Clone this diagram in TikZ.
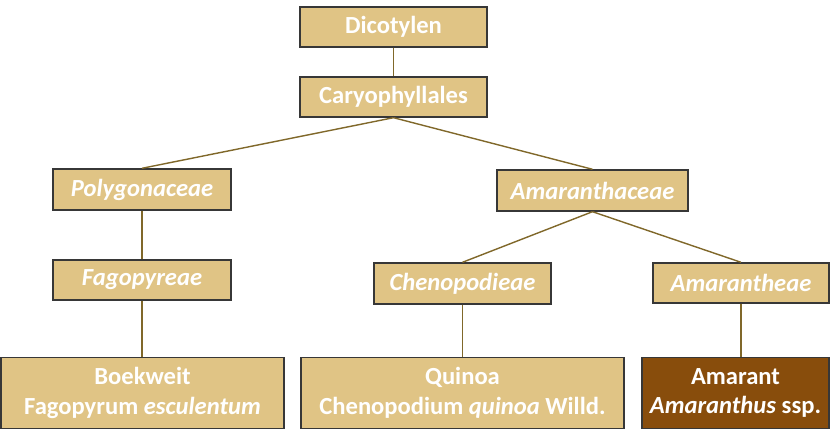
\documentclass[tikz,border=0pt]{standalone}
\usepackage{fontspec}
\setmainfont{Carlito}
\usepackage{tikz}
\usetikzlibrary{positioning, calc}
\definecolor{tan}{RGB}{224,196,133}
\definecolor{brownbox}{RGB}{136,77,12}
\definecolor{linkcol}{RGB}{128,104,42}
\definecolor{edgecol}{RGB}{55,55,55}

\begin{document}
\begin{tikzpicture}[
  taxon/.style={rectangle, draw=edgecol, line width=0.8pt, fill=tan, text=white, align=center, font=\fontsize{14}{17}\selectfont\bfseries, inner sep=0pt, minimum height=0.8cm},
  crop/.style={taxon, minimum height=1.41cm},
  lnk/.style={draw=linkcol, line width=0.8pt}
]
  \useasboundingbox (0,0) rectangle (16.7,8.6);

  % Nodes
  \node[taxon, minimum width=3.74cm] (dico) at (7.87,8.06) {Dicotylen};
  \node[taxon, minimum width=3.74cm] (cary) at (7.87,6.66) {Caryophyllales};

  \node[taxon, minimum width=3.56cm, minimum height=0.82cm] (poly) at (2.84,4.81) {\itshape Polygonaceae};
  \node[taxon, minimum width=3.82cm, minimum height=0.82cm] (amar) at (11.85,4.79) {\itshape Amaranthaceae};

  \node[taxon, minimum width=3.56cm] (fago) at (2.84,3.0) {\itshape Fagopyreae};
  \node[taxon, minimum width=3.54cm, minimum height=0.82cm] (cheno) at (9.25,2.93) {\itshape Chenopodieae};
  \node[taxon, minimum width=3.52cm] (amarth) at (14.82,2.94) {\itshape Amarantheae};

  \node[crop, minimum width=5.66cm] (boek) at (2.85,0.74) {Boekweit\\Fagopyrum \textit{esculentum}};
  \node[crop, minimum width=6.46cm] (quin) at (9.25,0.74) {Quinoa\\Chenopodium \textit{quinoa} Willd.};
  \node[crop, minimum width=3.74cm, fill=brownbox] (amrt) at (14.71,0.74) {Amarant\\\textit{Amaranthus} ssp.};

  % Links
  \draw[lnk] (dico) -- (cary);
  \draw[lnk] (cary.south) -- (poly.north);
  \draw[lnk] (cary.south) -- (amar.north);
  \draw[lnk] (poly) -- (fago);
  \draw[lnk] (fago.south) -- (fago.south |- boek.north);
  \draw[lnk] (amar.south) -- (cheno.north);
  \draw[lnk] (amar.south) -- (amarth.north);
  \draw[lnk] (cheno.south) -- (cheno.south |- quin.north);
  \draw[lnk] (amarth.south) -- (amarth.south |- amrt.north);
\end{tikzpicture}
\end{document}
